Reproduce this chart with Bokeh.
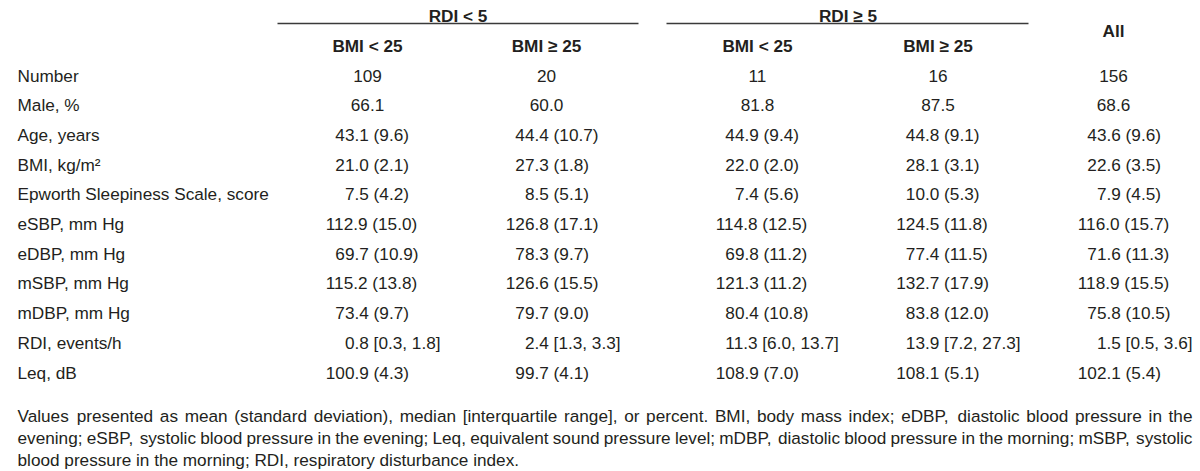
from bokeh.plotting import figure
from bokeh.models import Range1d
from bokeh.core.properties import value
from bokeh.embed import file_html
from bokeh.resources import INLINE

# ---------------- data ----------------
group_labels = ["RDI < 5", "RDI ≥ 5"]
col_headers = ["BMI < 25", "BMI ≥ 25", "BMI < 25", "BMI ≥ 25"]
all_header = "All"
row_labels = ["Number", "Male, %", "Age, years", "BMI, kg/m²",
              "Epworth Sleepiness Scale, score", "eSBP, mm Hg", "eDBP, mm Hg",
              "mSBP, mm Hg", "mDBP, mm Hg", "RDI, events/h", "Leq, dB"]
rdi_lt5_bmi_lt25 = ["109", "66.1", "43.1 (9.6)", "21.0 (2.1)", "7.5 (4.2)", "112.9 (15.0)",
                    "69.7 (10.9)", "115.2 (13.8)", "73.4 (9.7)", "0.8 [0.3, 1.8]", "100.9 (4.3)"]
rdi_lt5_bmi_ge25 = ["20", "60.0", "44.4 (10.7)", "27.3 (1.8)", "8.5 (5.1)", "126.8 (17.1)",
                    "78.3 (9.7)", "126.6 (15.5)", "79.7 (9.0)", "2.4 [1.3, 3.3]", "99.7 (4.1)"]
rdi_ge5_bmi_lt25 = ["11", "81.8", "44.9 (9.4)", "22.0 (2.0)", "7.4 (5.6)", "114.8 (12.5)",
                    "69.8 (11.2)", "121.3 (11.2)", "80.4 (10.8)", "11.3 [6.0, 13.7]", "108.9 (7.0)"]
rdi_ge5_bmi_ge25 = ["16", "87.5", "44.8 (9.1)", "28.1 (3.1)", "10.0 (5.3)", "124.5 (11.8)",
                    "77.4 (11.5)", "132.7 (17.9)", "83.8 (12.0)", "13.9 [7.2, 27.3]", "108.1 (5.1)"]
all_col = ["156", "68.6", "43.6 (9.6)", "22.6 (3.5)", "7.9 (4.5)", "116.0 (15.7)",
           "71.6 (11.3)", "118.9 (15.5)", "75.8 (10.5)", "1.5 [0.5, 3.6]", "102.1 (5.4)"]
footnote_lines = [
    "Values presented as mean (standard deviation), median [interquartile range], or percent. BMI, body mass index; eDBP, diastolic blood pressure in the",
    "evening; eSBP, systolic blood pressure in the evening; Leq, equivalent sound pressure level; mDBP, diastolic blood pressure in the morning; mSBP, systolic",
    "blood pressure in the morning; RDI, respiratory disturbance index.",
]

# ---------------- layout / style ----------------
FONT = "Liberation Sans"
FS = 17.2
FS_STR = "17.2px"
TXT = "#231f20"
W, H = 1200, 471

columns = [rdi_lt5_bmi_lt25, rdi_lt5_bmi_ge25, rdi_ge5_bmi_lt25, rdi_ge5_bmi_ge25, all_col]
col_center = [367, 546, 757, 937.5, 1113]
col_decimal = [354, 534, 744, 924.5, 1106]
label_x = 17
row_base0, row_step = 75, 29.7
header_base = 45
group_base = 15
group_center = [457.5, 847.5]
group_span = [(277, 638), (666, 1028)]
rule_y = 23
all_base = 30
foot_base = [415, 437, 459]
foot_left, foot_right = 17, 1192

# Arial-metric widths (1/1000 em)
_w = {" ": 278, ",": 278, ".": 278, ";": 278, ":": 278, "(": 333, ")": 333, "[": 278, "]": 278,
      "<": 584, "≥": 549, "%": 889, "/": 278, "-": 333, "²": 333}
for ch in "0123456789":
    _w[ch] = 556
_w.update(dict(zip("ABCDEFGHIJKLMNOPQRSTUVWXYZ",
                   [667, 667, 722, 722, 667, 611, 778, 722, 278, 500, 667, 556, 833, 722, 778, 667,
                    778, 722, 667, 611, 722, 667, 944, 667, 667, 611])))
_w.update(dict(zip("abcdefghijklmnopqrstuvwxyz",
                   [556, 556, 500, 556, 556, 278, 556, 556, 222, 222, 500, 222, 833, 556, 556, 556,
                    556, 333, 500, 278, 556, 500, 722, 500, 500, 500])))


def text_w(s):
    return sum(_w.get(c, 556) for c in s) / 1000.0 * FS


p = figure(width=W, height=H, x_range=Range1d(0, W), y_range=Range1d(H, 0),
           output_backend="svg", toolbar_location=None, min_border=0)
p.axis.visible = False
p.grid.visible = False
p.outline_line_color = None
p.background_fill_color = "white"
p.border_fill_color = "white"

common = dict(text_font=value(FONT), text_font_size=FS_STR, text_color=TXT, text_baseline="alphabetic")

# group headers
p.text(x=group_center, y=[group_base] * 2, text=group_labels, text_align="center",
       text_font_style="bold", **common)
p.segment(x0=[s[0] for s in group_span], x1=[s[1] for s in group_span], y0=[rule_y] * 2,
          y1=[rule_y] * 2, line_color="#3a3a3a", line_width=1.5)
# column headers
p.text(x=col_center[:4], y=[header_base] * 4, text=col_headers, text_align="center",
       text_font_style="bold", **common)
p.text(x=[col_center[4]], y=[all_base], text=[all_header], text_align="center",
       text_font_style="bold", **common)

# row labels
ys = [row_base0 + i * row_step for i in range(len(row_labels))]
p.text(x=[label_x] * len(row_labels), y=ys, text=row_labels, text_align="left", **common)

# cell values
cx, cy, ct = [], [], []
dx, dy, dt = [], [], []
for j, col in enumerate(columns):
    for i, v in enumerate(col):
        if i < 2:
            cx.append(col_center[j]); cy.append(ys[i]); ct.append(v)
        else:
            ip = v.split(".")[0]
            dx.append(col_decimal[j] - text_w(ip)); dy.append(ys[i]); dt.append(v)
p.text(x=cx, y=cy, text=ct, text_align="center", **common)
p.text(x=dx, y=dy, text=dt, text_align="left", **common)

# footnote (justified lines)
fx, fy, ft = [], [], []
for k, line in enumerate(footnote_lines):
    words = line.split(" ")
    if k < len(footnote_lines) - 1:
        tot = sum(text_w(wd) for wd in words)
        gap = (foot_right - foot_left - tot) / (len(words) - 1)
        x = foot_left
        for wd in words:
            fx.append(x); fy.append(foot_base[k]); ft.append(wd)
            x += text_w(wd) + gap
    else:
        fx.append(foot_left); fy.append(foot_base[k]); ft.append(line)
p.text(x=fx, y=fy, text=ft, text_align="left", **common)

open("out.html", "w").write(file_html(p, INLINE))
